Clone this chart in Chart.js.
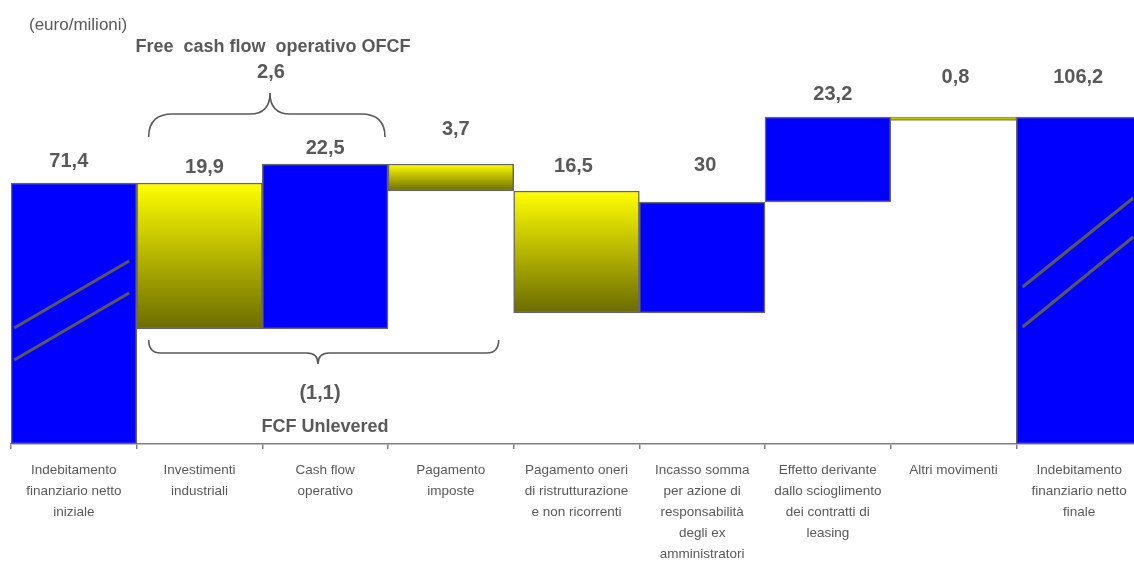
<!DOCTYPE html>
<html>
<head>
<meta charset="utf-8">
<script src="https://cdn.jsdelivr.net/npm/chart.js@4"></script>
<style>
  html, body { margin: 0; padding: 0; background: #fff; overflow: hidden; }
  #wrap { width: 1150px; height: 561px; }
</style>
</head>
<body>
<div id="wrap"><canvas id="bridge" width="1150" height="561"></canvas></div>
<script>
// --- dati del grafico ---
const categories = [
    ['Indebitamento', 'finanziario netto', 'iniziale'],
    ['Investimenti', 'industriali'],
    ['Cash flow', 'operativo'],
    ['Pagamento', 'imposte'],
    ['Pagamento oneri', 'di ristrutturazione', 'e non ricorrenti'],
    ['Incasso somma', 'per azione di', 'responsabilità', 'degli ex', 'amministratori'],
    ['Effetto derivante', 'dallo scioglimento', 'dei contratti di', 'leasing'],
    ['Altri movimenti'],
    ['Indebitamento', 'finanziario netto', 'finale']
];
const amounts = [71.4, 19.9, 22.5, 3.7, 16.5, 30, 23.2, 0.8, 106.2];
// estremi delle barre (scala schematica del disegno, asse interrotto)
const barFrom = [0, 115, 115, 253, 131, 131, 242, 323.5, 0];
const barTo   = [261, 261, 280, 280, 253, 242, 327, 327, 327];
const barKind = ['blu', 'giallo', 'blu', 'giallo', 'giallo', 'blu', 'blu', 'giallo', 'blu'];
const ofcfValue = 2.6;
const fcfUnleveredValue = -1.1;

const TEXT = '#595959';
const FONT = '"Liberation Sans", Arial, sans-serif';

function fmt(v) {
    const s = String(Math.abs(v)).replace('.', ',');
    return v < 0 ? '(' + s + ')' : s;
}

// --- etichette, parentesi graffe e segni di interruzione ---
const labelLift = [22, 16, 16, 35, 25, 37, 23, 40, 40];
const labelShift = [-5, 5, 0, 5, -3, 3, 5, 2, -1];

function brace(ctx, x1, x2, xm, yEnd, yMid, yTip, rEnd, rTip) {
    ctx.beginPath();
    ctx.moveTo(x1, yEnd);
    ctx.quadraticCurveTo(x1, yMid, x1 + rEnd, yMid);
    ctx.lineTo(xm - rTip, yMid);
    ctx.quadraticCurveTo(xm, yMid, xm, yTip);
    ctx.quadraticCurveTo(xm, yMid, xm + rTip, yMid);
    ctx.lineTo(x2 - rEnd, yMid);
    ctx.quadraticCurveTo(x2, yMid, x2, yEnd);
    ctx.stroke();
}

const decorPlugin = {
    id: 'decor',
    afterDatasetsDraw(chart) {
        const ctx = chart.ctx;
        const y = chart.scales.y;
        const bars = chart.getDatasetMeta(0).data;
        ctx.save();

        // segni di interruzione sulle barre iniziale e finale
        ctx.strokeStyle = TEXT;
        ctx.lineWidth = 3;
        const breaks = [
            { i: 0, lines: [[0.025, 116, 0.94, 183], [0.025, 84, 0.94, 151]] },
            { i: 8, lines: [[0.05, 157, 0.93, 246], [0.05, 117, 0.93, 207]] }
        ];
        breaks.forEach(b => {
            const bar = bars[b.i];
            const left = bar.x - bar.width / 2;
            b.lines.forEach(l => {
                ctx.beginPath();
                ctx.moveTo(left + l[0] * bar.width, y.getPixelForValue(l[1]));
                ctx.lineTo(left + l[2] * bar.width, y.getPixelForValue(l[3]));
                ctx.stroke();
            });
        });

        // valori sopra le barre
        ctx.fillStyle = TEXT;
        ctx.textAlign = 'center';
        ctx.textBaseline = 'middle';
        ctx.font = 'bold 20px ' + FONT;
        amounts.forEach((v, i) => {
            const top = y.getPixelForValue(barTo[i]);
            ctx.fillText(fmt(v), bars[i].x + labelShift[i], top - labelLift[i]);
        });

        // testi liberi
        ctx.font = '17px ' + FONT;
        ctx.textAlign = 'left';
        ctx.fillText('(euro/milioni)', 29, 25);

        ctx.textAlign = 'center';
        ctx.font = 'bold 18px ' + FONT;
        ctx.fillText('Free  cash flow  operativo OFCF', 273, 47);
        ctx.font = 'bold 20px ' + FONT;
        ctx.fillText(fmt(ofcfValue), 271, 72);

        ctx.fillText(fmt(fcfUnleveredValue), 320, 393);
        ctx.font = 'bold 18px ' + FONT;
        ctx.fillText('FCF Unlevered', 325, 427);

        // parentesi graffe
        ctx.strokeStyle = '#5a5a5a';
        ctx.lineWidth = 1.6;
        const w = bars[1].width;
        const b1 = bars[1].x - w / 2;
        brace(ctx, b1 + 12, bars[2].x + w / 2 - 3, 270, 137, 114, 93, 24, 20);
        brace(ctx, b1 + 12, bars[3].x + w / 2 - 15, 318, 340, 353, 364, 12, 11);

        ctx.restore();
    }
};

const canvas = document.getElementById('bridge');
const chart = new Chart(canvas, {
    type: 'bar',
    data: {
        labels: categories,
        datasets: [{
            data: barFrom.map((f, i) => [f, barTo[i]]),
            backgroundColor: (c) => {
                const i = c.dataIndex;
                if (barKind[i] === 'blu') return '#0000FF';
                const ch = c.chart;
                if (!ch.chartArea || !ch.scales.y) return '#FFFF00';
                const ys = ch.scales.y;
                const g = ch.ctx.createLinearGradient(0, ys.getPixelForValue(barTo[i]), 0, ys.getPixelForValue(barFrom[i]));
                g.addColorStop(0, '#FFFF00');
                g.addColorStop(1, '#6B6B00');
                return g;
            },
            borderColor: (c) => (c.dataIndex === 7 ? '#8a8a40' : '#666666'),
            borderWidth: (c) => (c.dataIndex === 7 ? 1 : 1.5),
            borderSkipped: false,
            categoryPercentage: 1,
            barPercentage: 1
        }]
    },
    options: {
        responsive: false,
        animation: false,
        layout: { padding: { left: 11, right: 8, top: 10, bottom: 0 } },
        plugins: {
            legend: { display: false },
            tooltip: { enabled: false }
        },
        scales: {
            x: {
                grid: {
                    offset: true,
                    drawOnChartArea: false,
                    drawTicks: true,
                    tickLength: 5,
                    color: '#808080',
                    lineWidth: 1.5
                },
                border: { color: '#808080', width: 1.5 },
                ticks: {
                    color: TEXT,
                    font: { family: FONT, size: 13.5, lineHeight: 1.56 },
                    padding: 11,
                    maxRotation: 0,
                    autoSkip: false
                },
                afterFit: (scale) => { scale.height = 117; }
            },
            y: {
                display: false,
                min: 0,
                max: 434
            }
        }
    },
    plugins: [decorPlugin]
});
</script>
</body>
</html>
